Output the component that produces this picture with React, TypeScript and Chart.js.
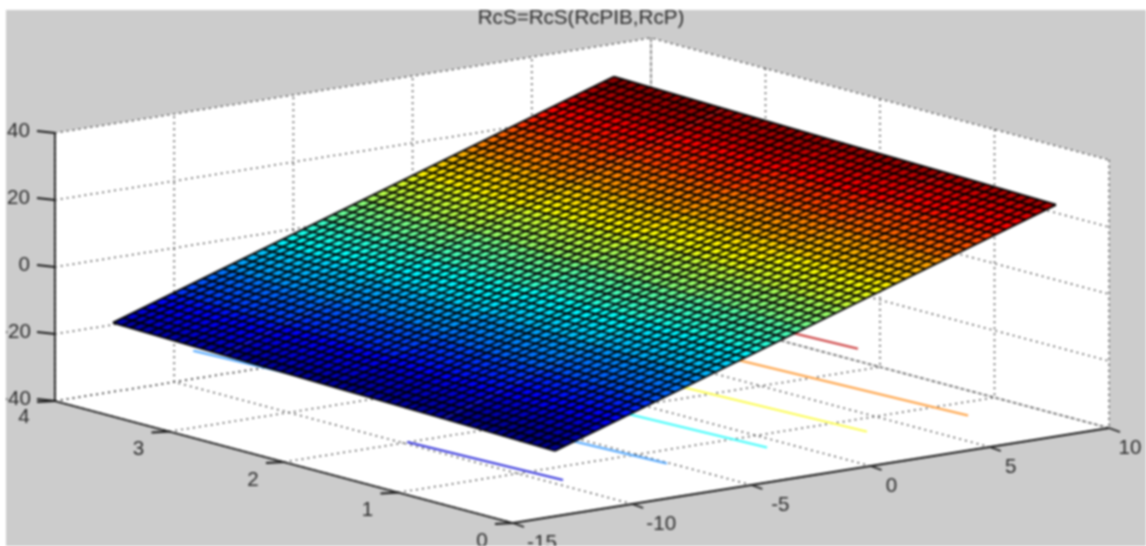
import React, { useEffect, useRef } from "react";
import { Chart, registerables } from "chart.js";

Chart.register(...registerables);

const chartTitle = "RcS=RcS(RcPIB,RcP)";
const rcpTicks = [-15, -10, -5, 0, 5, 10];
const rcpibTicks = [0, 1, 2, 3, 4];
const rcsTicks = [-40, -20, 0, 20, 40];

const rcpGrid = [-12.57,-12.15,-11.73,-11.31,-10.89,-10.47,-10.05,-9.63,-9.21,-8.79,-8.37,-7.95,-7.53,-7.10,-6.68,-6.26,-5.84,-5.42,-5.00,-4.58,-4.16,-3.74,-3.32,-2.90,-2.48,-2.06,-1.64,-1.22,-0.80,-0.38,0.04,0.46,0.88,1.30,1.72,2.14,2.56,2.98,3.41,3.83,4.25,4.67,5.09,5.51,5.93,6.35,6.77,7.19,7.61,8.03,8.45];
const rcpibGrid = [0.14,0.22,0.29,0.37,0.45,0.53,0.60,0.68,0.76,0.83,0.91,0.99,1.07,1.14,1.22,1.30,1.38,1.45,1.53,1.61,1.68,1.76,1.84,1.92,1.99,2.07,2.15,2.22,2.30,2.38,2.46,2.53,2.61,2.69,2.76,2.84,2.92,3.00,3.07,3.15,3.23,3.31,3.38,3.46,3.54,3.61,3.69,3.77,3.85,3.92,4.00];
const rcpibStations = [0.14, 1.11, 2.07, 3.04, 4.0];

// RcS read at each RcP grid row, at the five RcPIB stations
const rcsRows = [
  [-22.5,-21.7,-21.0,-20.2,-19.4],[-21.5,-20.7,-20.0,-19.2,-18.4],[-20.5,-19.7,-19.0,-18.2,-17.4],
  [-19.5,-18.8,-18.0,-17.2,-16.5],[-18.5,-17.8,-17.0,-16.2,-15.5],[-17.5,-16.8,-16.0,-15.2,-14.5],
  [-16.5,-15.8,-15.0,-14.2,-13.5],[-15.6,-14.8,-14.0,-13.3,-12.5],[-14.6,-13.8,-13.0,-12.3,-11.5],
  [-13.6,-12.8,-12.0,-11.3,-10.5],[-12.6,-11.8,-11.0,-10.3,-9.5],[-11.6,-10.8,-10.1,-9.3,-8.5],
  [-10.6,-9.8,-9.1,-8.3,-7.5],[-9.6,-8.8,-8.1,-7.3,-6.5],[-8.6,-7.9,-7.1,-6.3,-5.6],
  [-7.6,-6.9,-6.1,-5.3,-4.6],[-6.6,-5.9,-5.1,-4.3,-3.6],[-5.6,-4.9,-4.1,-3.3,-2.6],
  [-4.6,-3.9,-3.1,-2.3,-1.6],[-3.7,-2.9,-2.1,-1.4,-0.6],[-2.7,-1.9,-1.1,-0.4,0.4],
  [-1.7,-0.9,-0.1,0.6,1.4],[-0.7,0.1,0.9,1.6,2.4],[0.3,1.1,1.9,2.6,3.4],
  [1.3,2.1,2.9,3.6,4.4],[2.3,3.1,3.8,4.6,5.4],[3.3,4.1,4.8,5.6,6.4],
  [4.3,5.1,5.8,6.6,7.4],[5.3,6.0,6.8,7.6,8.3],[6.3,7.0,7.8,8.6,9.3],
  [7.3,8.0,8.8,9.6,10.3],[8.3,9.0,9.8,10.6,11.3],[9.2,10.0,10.8,11.5,12.3],
  [10.2,11.0,11.8,12.5,13.3],[11.2,12.0,12.8,13.5,14.3],[12.2,13.0,13.8,14.5,15.3],
  [13.2,14.0,14.7,15.5,16.3],[14.2,15.0,15.7,16.5,17.3],[15.2,16.0,16.7,17.5,18.3],
  [16.2,16.9,17.7,18.5,19.2],[17.2,17.9,18.7,19.5,20.2],[18.2,18.9,19.7,20.5,21.2],
  [19.2,19.9,20.7,21.5,22.2],[20.2,20.9,21.7,22.5,23.2],[21.1,21.9,22.7,23.4,24.2],
  [22.1,22.9,23.7,24.4,25.2],[23.1,23.9,24.7,25.4,26.2],[24.1,24.9,25.6,26.4,27.2],
  [25.1,25.9,26.6,27.4,28.2],[26.1,26.9,27.6,28.4,29.2],[27.1,27.9,28.6,29.4,30.2],
];
// RcS along the first and last RcP rows, at each RcPIB grid value
const rcsFirstRow = [-22.5,-22.4,-22.4,-22.3,-22.3,-22.2,-22.1,-22.1,-22.0,-21.9,-21.9,-21.8,-21.8,-21.7,-21.6,-21.6,-21.5,-21.5,-21.4,-21.3,-21.3,-21.2,-21.1,-21.1,-21.0,-21.0,-20.9,-20.8,-20.8,-20.7,-20.7,-20.6,-20.5,-20.5,-20.4,-20.4,-20.3,-20.2,-20.2,-20.1,-20.0,-20.0,-19.9,-19.9,-19.8,-19.7,-19.7,-19.6,-19.6,-19.5,-19.4];
const rcsLastRow = [27.1,27.2,27.2,27.3,27.3,27.4,27.5,27.5,27.6,27.7,27.7,27.8,27.8,27.9,28.0,28.0,28.1,28.1,28.2,28.3,28.3,28.4,28.5,28.5,28.6,28.6,28.7,28.8,28.8,28.9,28.9,29.0,29.1,29.1,29.2,29.2,29.3,29.4,29.4,29.5,29.6,29.6,29.7,29.7,29.8,29.9,29.9,30.0,30.0,30.1,30.2];

// Contour lines [RcP, RcPIB] at each end, drawn on the contour plane below the surface
const contourPlaneRcs = -31.6;
const contourStart = [[-12.23, 0.14], [-7.87, 0.14], [-3.67, 0.14], [0.52, 0.14], [4.76, 0.14], [8.45, 1.87]];
const contourEnd = [[-12.57, 1.43], [-9.2, 4.0], [-4.83, 4.0], [-0.64, 4.0], [3.6, 4.0], [7.81, 4.0]];
const CONTOUR_COLORS = ["#3434dc", "#4fa6ff", "#3dfcfc", "#fcfc40", "#ffa040", "#cc3c3c"];

// Orthographic view of the 3D box onto the picture
const VIEW = { ox: 513, oy: 523, xu: 23.84, xv: -3.8, yu: -114.5, yv: -30.5, zv: -3.35 };
const project = (x: number, y: number, z: number) => ({
  x: VIEW.ox + VIEW.xu * (x + 15) + VIEW.yu * y,
  y: VIEW.oy + VIEW.xv * (x + 15) + VIEW.yv * y + VIEW.zv * (z + 40),
});

const RCS_MIN = -22.5;
const RCS_MAX = 30.2;
const jet = (v: number) => {
  const t = Math.floor(Math.min(0.9999, Math.max(0, (v - RCS_MIN) / (RCS_MAX - RCS_MIN))) * 64) / 63;
  const c = (d: number) => Math.round(255 * Math.max(0, Math.min(1, 1.5 - Math.abs(4 * t - d))));
  return `rgb(${c(3)},${c(2)},${c(1)})`;
};

const WIDTH = 1146;
const HEIGHT = 546;
const GREY = "#cccccc";
const DOT = { borderColor: "#222222", borderWidth: 1.5, borderDash: [1.5, 4.5] };
const AXIS = { borderColor: "#1c1c1c", borderWidth: 1.8 };
const MESH = { borderColor: "rgba(0,0,0,0.95)", borderWidth: 2 };
const FONT = '20.6px "Liberation Sans", Arial, sans-serif';
const TEXT = "#2c2c2c";

const line = (data: { x: number; y: number }[], style: object) => ({
  data, showLine: true, pointRadius: 0, fill: false, tension: 0, ...style,
});
const shape = (data: { x: number; y: number }[], color: string) => ({
  data: [...data, data[0]], showLine: true, pointRadius: 0, tension: 0,
  fill: "shape", backgroundColor: color, borderColor: color, borderWidth: 0,
});

function buildDatasets() {
  const sets: any[] = [];
  const xA = rcpTicks[0], xB = rcpTicks[rcpTicks.length - 1];
  const yA = rcpibTicks[0], yB = rcpibTicks[rcpibTicks.length - 1];
  const zA = rcsTicks[0], zB = rcsTicks[rcsTicks.length - 1];

  sets.push(shape([{ x: 0, y: 10 }, { x: WIDTH + 4, y: 10 }, { x: WIDTH + 4, y: HEIGHT + 4 }, { x: 6, y: HEIGHT + 4 }, { x: 6, y: 10 }], GREY));
  sets.push(shape([
    project(xA, yB, zB), project(xB, yB, zB), project(xB, yA, zB),
    project(xB, yA, zA), project(xA, yA, zA), project(xA, yB, zA),
  ], "#ffffff"));

  for (const t of rcpTicks) {
    sets.push(line([project(t, yA, zA), project(t, yB, zA), project(t, yB, zB)], DOT));
  }
  for (const t of rcpibTicks) {
    sets.push(line([project(xA, t, zA), project(xB, t, zA), project(xB, t, zB)], DOT));
  }
  for (const t of rcsTicks) {
    sets.push(line([project(xA, yB, t), project(xB, yB, t), project(xB, yA, t)], DOT));
  }

  sets.push(line([project(xA, yB, zB), project(xA, yB, zA), project(xA, yA, zA), project(xB, yA, zA)], AXIS));
  for (const t of rcsTicks) {
    const p = project(xA, yB, t);
    sets.push(line([p, { x: p.x - 18, y: p.y - 2 }], AXIS));
  }
  for (const t of rcpibTicks) {
    const p = project(xA, t, zA);
    sets.push(line([p, { x: p.x - 18, y: p.y + 1 }], AXIS));
  }
  for (const t of rcpTicks) {
    const p = project(t, yA, zA);
    sets.push(line([p, { x: p.x + 11, y: p.y + 4 }], AXIS));
  }

  contourStart.forEach((a, i) => {
    const b = contourEnd[i];
    sets.push(line(
      [project(a[0], a[1], contourPlaneRcs), project(b[0], b[1], contourPlaneRcs)],
      { borderColor: CONTOUR_COLORS[i], borderWidth: 2 },
    ));
  });

  for (let i = 0; i < rcpGrid.length - 1; i++) {
    for (let j = 0; j < rcpibStations.length - 1; j++) {
      const zs = [rcsRows[i][j], rcsRows[i][j + 1], rcsRows[i + 1][j + 1], rcsRows[i + 1][j]];
      const mean = (zs[0] + zs[1] + zs[2] + zs[3]) / 4;
      sets.push(shape([
        project(rcpGrid[i], rcpibStations[j], zs[0]),
        project(rcpGrid[i], rcpibStations[j + 1], zs[1]),
        project(rcpGrid[i + 1], rcpibStations[j + 1], zs[2]),
        project(rcpGrid[i + 1], rcpibStations[j], zs[3]),
      ], jet(mean)));
    }
  }
  rcpGrid.forEach((x, i) => {
    sets.push(line(rcpibStations.map((y, j) => project(x, y, rcsRows[i][j])), MESH));
  });
  rcpibGrid.forEach((y, k) => {
    sets.push(line([
      project(rcpGrid[0], y, rcsFirstRow[k]),
      project(rcpGrid[rcpGrid.length - 1], y, rcsLastRow[k]),
    ], MESH));
  });
  // Chart.js paints the first dataset last
  return sets.reverse();
}

const labelsPlugin = {
  id: "boxLabels",
  afterDraw(chart: any) {
    const { ctx, scales } = chart;
    const put = (text: string, p: { x: number; y: number }, dx: number, dy: number, align: CanvasTextAlign) => {
      ctx.textAlign = align;
      ctx.fillText(text, scales.x.getPixelForValue(p.x) + dx, scales.y.getPixelForValue(p.y) + dy);
    };
    ctx.save();
    ctx.beginPath();
    ctx.rect(6, 10, WIDTH - 6, HEIGHT - 10);
    ctx.clip();
    ctx.font = FONT;
    ctx.fillStyle = TEXT;
    ctx.textBaseline = "middle";
    ctx.textAlign = "center";
    ctx.fillText(chartTitle, 581, 18);
    for (const t of rcsTicks) put(String(t), project(-15, 4, t), t < 0 ? -24 : -25, -2, "right");
    for (const t of rcpibTicks) put(String(t), project(-15, t, -40), -31, t === 4 ? 16 : 18, "center");
    for (const t of rcpTicks) put(String(t), project(t, 0, -40), t < 0 ? 29 : 21, 20, "center");
    ctx.restore();
  },
};

export default function App() {
  const ref = useRef<HTMLCanvasElement | null>(null);
  useEffect(() => {
    if (!ref.current) return;
    const chart = new Chart(ref.current, {
      type: "scatter",
      data: { datasets: buildDatasets() },
      options: {
        animation: false,
        responsive: false,
        devicePixelRatio: 1,
        layout: { padding: 0 },
        clip: false,
        scales: {
          x: { type: "linear", min: 0, max: WIDTH, display: false },
          y: { type: "linear", min: 0, max: HEIGHT, reverse: true, display: false },
        },
        plugins: { legend: { display: false }, tooltip: { enabled: false }, title: { display: false } },
      },
      plugins: [labelsPlugin],
    } as any);
    return () => chart.destroy();
  }, []);
  return (
    <div style={{ width: WIDTH, height: HEIGHT, overflow: "hidden", position: "fixed", left: 0, top: 0, background: "#fff" }}>
      <canvas ref={ref} width={WIDTH} height={HEIGHT} style={{ display: "block", filter: "blur(0.9px)" }} />
    </div>
  );
}
